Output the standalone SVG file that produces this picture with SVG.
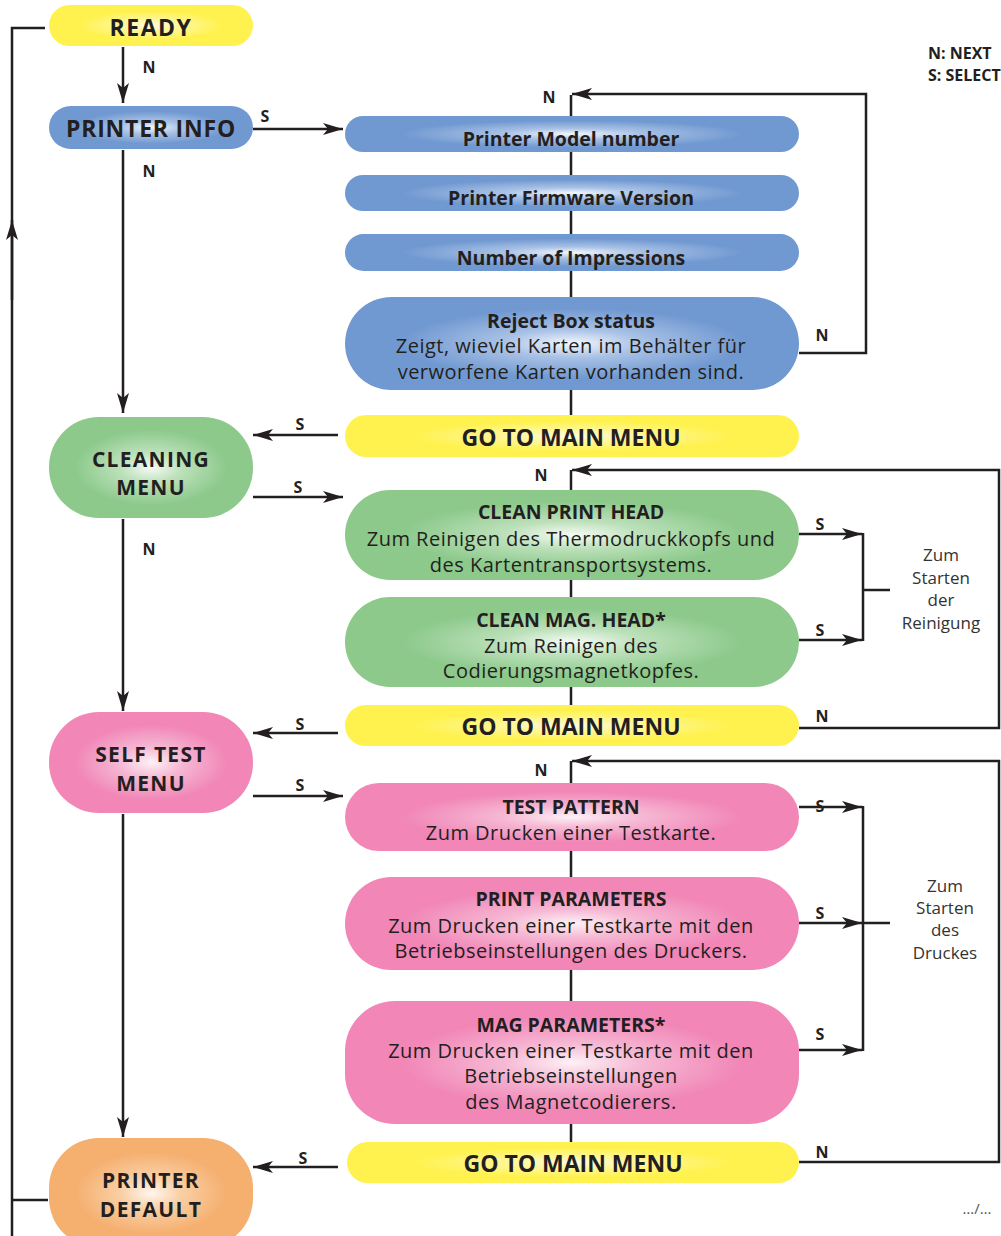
<svg xmlns="http://www.w3.org/2000/svg" width="1001" height="1236" viewBox="0 0 1001 1236">
<defs>
<radialGradient id="gy" cx="50%" cy="50%" r="50%"><stop offset="0" stop-color="#fffbe0"/><stop offset="0.25" stop-color="#fff7a0"/><stop offset="0.7" stop-color="#fff24f"/></radialGradient>
<radialGradient id="gb" cx="50%" cy="50%" r="50%"><stop offset="0" stop-color="#f4f7fc"/><stop offset="0.3" stop-color="#a9c2e6"/><stop offset="0.75" stop-color="#7199d1"/></radialGradient>
<radialGradient id="gg" cx="50%" cy="50%" r="50%"><stop offset="0" stop-color="#f6fbf5"/><stop offset="0.3" stop-color="#bde1bb"/><stop offset="0.75" stop-color="#8cc98b"/></radialGradient>
<radialGradient id="gp" cx="50%" cy="50%" r="50%"><stop offset="0" stop-color="#fdf1f6"/><stop offset="0.3" stop-color="#f6b9d4"/><stop offset="0.75" stop-color="#f186b7"/></radialGradient>
<radialGradient id="go" cx="50%" cy="50%" r="50%"><stop offset="0" stop-color="#fff6ee"/><stop offset="0.3" stop-color="#f9cfa4"/><stop offset="0.75" stop-color="#f5af6f"/></radialGradient>
<marker id="ar" viewBox="0 0 20 12" refX="20" refY="6" markerWidth="20" markerHeight="12" markerUnits="userSpaceOnUse" orient="auto"><path d="M0,0 L20,6 L0,12 L5,6 z" fill="#231f20"/></marker>
</defs>
<style>
.ln{fill:none;stroke:#231f20;stroke-width:2.5}
.a{marker-end:url(#ar)}
text{font-family:"Open Sans","Noto Sans","Liberation Sans",sans-serif;fill:#231f20;text-anchor:middle;dominant-baseline:central}
.t{font-weight:bold;font-size:23px}
.m{font-weight:bold;font-size:21px;letter-spacing:1.3px}
.h{font-weight:bold;font-size:19.5px}
.b{font-size:20px;letter-spacing:0.5px}
.l{font-weight:bold;font-size:16px}
.r{font-size:17px;fill:#333}
</style>
<rect width="1001" height="1236" fill="#fff"/>
<g id="connectors">
<path class="ln" d="M45,28 H12 V1236"/>
<path class="ln a" d="M12,300 V220"/>
<path class="ln" d="M12,1200 H48"/>
<path class="ln a" d="M123,47 V103"/>
<path class="ln a" d="M253,129 H343"/>
<path class="ln a" d="M123,150 V413"/>
<path class="ln a" d="M338,435 H253"/>
<path class="ln a" d="M253,497 H343"/>
<path class="ln a" d="M123,519 V711"/>
<path class="ln a" d="M338,733 H253"/>
<path class="ln a" d="M253,796 H343"/>
<path class="ln a" d="M123,814 V1137"/>
<path class="ln a" d="M338,1167 H253"/>
<path class="ln" d="M571,95 V415"/>
<path class="ln a" d="M799,353 H866 V94 H572"/>
<path class="ln" d="M571,470 V705"/>
<path class="ln a" d="M799,728 H999 V470 H572"/>
<path class="ln a" d="M799,534 H862"/>
<path class="ln a" d="M799,640 H862"/>
<path class="ln" d="M863,533 V641 M863,590 H890"/>
<path class="ln" d="M571,761 V1142"/>
<path class="ln a" d="M799,1162 H999 V761 H572"/>
<path class="ln a" d="M799,807 H862"/>
<path class="ln a" d="M799,923 H862"/>
<path class="ln a" d="M799,1050 H862"/>
<path class="ln" d="M863,806 V1051 M863,923 H890"/>
</g>
<g id="labels">
<text class="l" x="149" y="67">N</text>
<text class="l" x="265" y="116">S</text>
<text class="l" x="149" y="171">N</text>
<text class="l" x="549" y="97">N</text>
<text class="l" x="822" y="335">N</text>
<text class="l" x="300" y="424">S</text>
<text class="l" x="298" y="487">S</text>
<text class="l" x="149" y="549">N</text>
<text class="l" x="541" y="475">N</text>
<text class="l" x="820" y="524">S</text>
<text class="l" x="820" y="630">S</text>
<text class="l" x="822" y="716">N</text>
<text class="l" x="300" y="724">S</text>
<text class="l" x="300" y="785">S</text>
<text class="l" x="541" y="770">N</text>
<text class="l" x="820" y="806">S</text>
<text class="l" x="820" y="913">S</text>
<text class="l" x="820" y="1034">S</text>
<text class="l" x="822" y="1152">N</text>
<text class="l" x="303" y="1158">S</text>
<text class="l" x="928" y="53" style="text-anchor:start">N: NEXT</text>
<text class="l" x="928" y="75" style="text-anchor:start">S: SELECT</text>
<text class="r"><tspan x="941" y="554">Zum</tspan><tspan x="941" y="577">Starten</tspan><tspan x="941" y="599">der</tspan><tspan x="941" y="622">Reinigung</tspan></text>
<text class="r"><tspan x="945" y="885">Zum</tspan><tspan x="945" y="907">Starten</tspan><tspan x="945" y="929">des</tspan><tspan x="945" y="952">Druckes</tspan></text>
<text class="r" x="977" y="1208" style="font-size:15px;fill:#555">…/…</text>
</g>
<g id="ready"><rect x="49" y="5" width="204" height="41" rx="20.5" fill="url(#gy)"/><text class="t" x="151" y="27" style="letter-spacing:1.5px">READY</text></g>
<g id="printer-info"><rect x="49" y="106" width="204" height="43" rx="21.5" fill="url(#gb)"/><text class="t" x="151" y="128" style="letter-spacing:0.8px">PRINTER INFO</text></g>
<g id="model"><rect x="345" y="116" width="454" height="36" rx="18" fill="url(#gb)"/><text class="h" x="571" y="138">Printer Model number</text></g>
<g id="firmware"><rect x="345" y="175" width="454" height="36" rx="18" fill="url(#gb)"/><text class="h" x="571" y="197">Printer Firmware Version</text></g>
<g id="impressions"><rect x="345" y="234" width="454" height="37" rx="18.5" fill="url(#gb)"/><text class="h" x="571" y="257">Number of Impressions</text></g>
<g id="reject"><rect x="345" y="297" width="454" height="93" rx="46.5" fill="url(#gb)"/><text class="h" x="571" y="320">Reject Box status</text><text class="b" x="571" y="345">Zeigt, wieviel Karten im Behälter für</text><text class="b" x="571" y="371">verworfene Karten vorhanden sind.</text></g>
<g id="main1"><rect x="345" y="415" width="454" height="42" rx="21" fill="url(#gy)"/><text class="t" x="571" y="437">GO TO MAIN MENU</text></g>
<g id="cleaning"><rect x="49" y="417" width="204" height="101" rx="50" fill="url(#gg)"/><text class="m" x="151" y="459">CLEANING</text><text class="m" x="151" y="487">MENU</text></g>
<g id="clean-print"><rect x="345" y="490" width="454" height="90" rx="45" fill="url(#gg)"/><text class="h" x="571" y="511">CLEAN PRINT HEAD</text><text class="b" x="571" y="538">Zum Reinigen des Thermodruckkopfs und</text><text class="b" x="571" y="564">des Kartentransportsystems.</text></g>
<g id="clean-mag"><rect x="345" y="597" width="454" height="90" rx="45" fill="url(#gg)"/><text class="h" x="571" y="619">CLEAN MAG. HEAD*</text><text class="b" x="571" y="645">Zum Reinigen des</text><text class="b" x="571" y="670">Codierungsmagnetkopfes.</text></g>
<g id="main2"><rect x="345" y="705" width="454" height="41" rx="20.5" fill="url(#gy)"/><text class="t" x="571" y="726">GO TO MAIN MENU</text></g>
<g id="selftest"><rect x="49" y="712" width="204" height="101" rx="50" fill="url(#gp)"/><text class="m" x="151" y="754">SELF TEST</text><text class="m" x="151" y="783">MENU</text></g>
<g id="test-pattern"><rect x="345" y="783" width="454" height="68" rx="34" fill="url(#gp)"/><text class="h" x="571" y="806">TEST PATTERN</text><text class="b" x="571" y="832">Zum Drucken einer Testkarte.</text></g>
<g id="print-params"><rect x="345" y="877" width="454" height="93" rx="46.5" fill="url(#gp)"/><text class="h" x="571" y="898">PRINT PARAMETERS</text><text class="b" x="571" y="925">Zum Drucken einer Testkarte mit den</text><text class="b" x="571" y="950">Betriebseinstellungen des Druckers.</text></g>
<g id="mag-params"><rect x="345" y="1001" width="454" height="123" rx="50" fill="url(#gp)"/><text class="h" x="571" y="1024">MAG PARAMETERS*</text><text class="b" x="571" y="1050">Zum Drucken einer Testkarte mit den</text><text class="b" x="571" y="1075">Betriebseinstellungen</text><text class="b" x="571" y="1101">des Magnetcodierers.</text></g>
<g id="main3"><rect x="347" y="1142" width="452" height="41" rx="20.5" fill="url(#gy)"/><text class="t" x="573" y="1163">GO TO MAIN MENU</text></g>
<g id="printer-default"><rect x="49" y="1138" width="204" height="110" rx="50" fill="url(#go)"/><text class="m" x="151" y="1180">PRINTER</text><text class="m" x="151" y="1209">DEFAULT</text></g>
</svg>
